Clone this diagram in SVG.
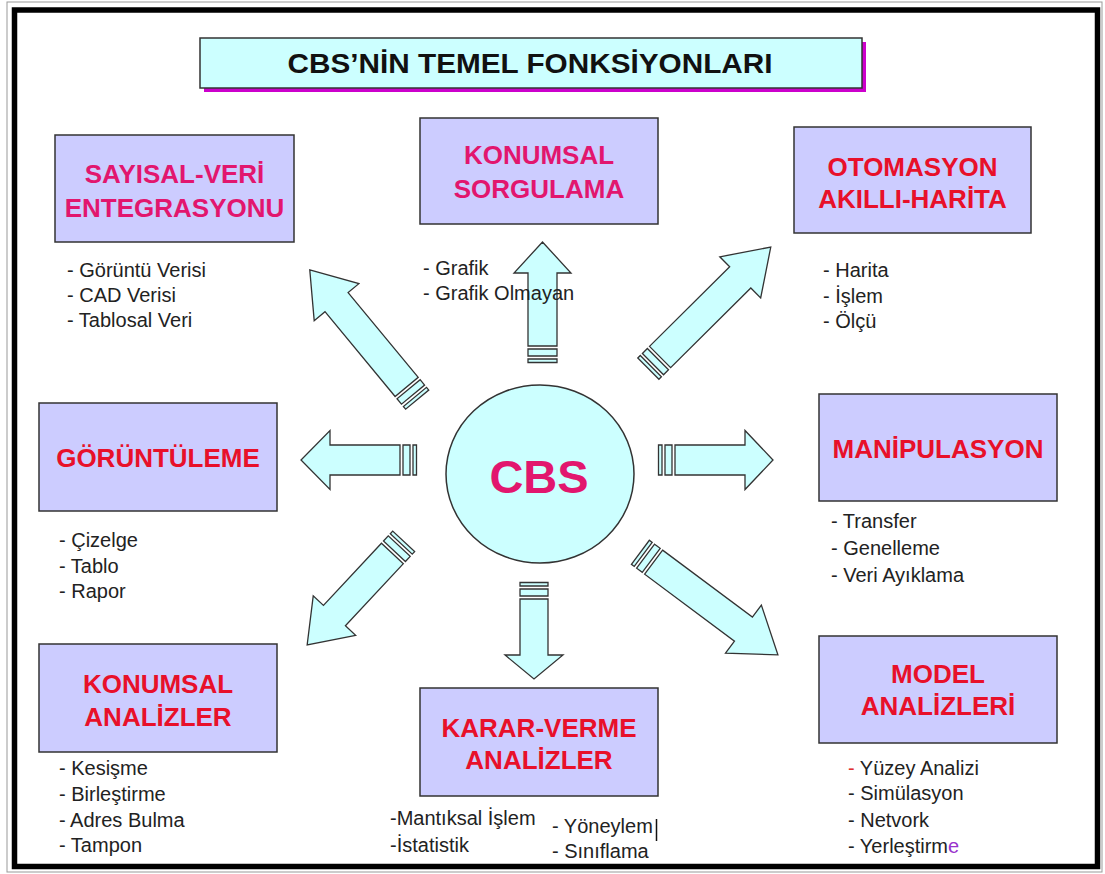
<svg xmlns="http://www.w3.org/2000/svg" width="1105" height="874" viewBox="0 0 1105 874">
<defs>
<style>
.box{fill:#CCCCFF;stroke:#333;stroke-width:1.5}
.arr{fill:#CCFFFF;stroke:#333;stroke-width:1.3;stroke-linejoin:miter}
.lbl{font-family:"Liberation Sans",Arial,sans-serif;font-weight:bold;font-size:26px;text-anchor:middle}
.pink{fill:#E2166E}
.red{fill:#E8102A}
.li{font-family:"Liberation Sans",Arial,sans-serif;font-size:20px;fill:#222}
</style>
</defs>
<rect x="0" y="0" width="1105" height="874" fill="#fff"/>
<rect x="7" y="2" width="1095" height="870" fill="none" stroke="#999" stroke-width="1"/>
<rect x="14.5" y="10" width="1083" height="856.5" fill="none" stroke="#000" stroke-width="5.5"/>

<g id="title">
<rect x="204" y="42" width="662" height="50" fill="#CC00CC"/>
<rect x="200" y="38" width="662" height="50" fill="#CCFFFF" stroke="#333" stroke-width="1.5"/>
<text x="530" y="73" font-family="Liberation Sans,Arial,sans-serif" font-weight="bold" font-size="28" text-anchor="middle" fill="#111" textLength="485" lengthAdjust="spacingAndGlyphs">CBS’NİN TEMEL FONKSİYONLARI</text>
</g>

<g id="connectors">
<g transform="translate(542.5,363) rotate(-90)">
<path class="arr" d="M0.5,-14.5 h3.5 v29 h-3.5 Z M7,-14.5 h7 v29 h-7 Z M17,-14.5 H90 V-28.5 L121,0 L90,28.5 V14.5 H17 Z"/>
</g>
<g transform="translate(417,460) rotate(180)">
<path class="arr" d="M0.5,-15 h3.5 v30 h-3.5 Z M7,-15 h7 v30 h-7 Z M17,-15 H87 V-29.5 L116,0 L87,29.5 V15 H17 Z"/>
</g>
<g transform="translate(658,460)">
<path class="arr" d="M0.5,-15 h3.5 v30 h-3.5 Z M7,-15 h7 v30 h-7 Z M17,-15 H87 V-29.5 L115,0 L87,29.5 V15 H17 Z"/>
</g>
<g transform="translate(534,582) rotate(90)">
<path class="arr" d="M0.5,-14 h3.5 v28 h-3.5 Z M7,-14 h7 v28 h-7 Z M17,-14 H73 V-29 L97,0 L73,29 V14 H17 Z"/>
</g>
<g transform="translate(417.5,400) rotate(-129.6)">
<path class="arr" d="M0.5,-15 h3.5 v30 h-3.5 Z M7,-15 h7 v30 h-7 Z M17,-15 H127 V-29 L169,0 L127,29 V15 H17 Z"/>
</g>
<g transform="translate(648,369) rotate(-44.8)">
<path class="arr" d="M0.5,-15 h3.5 v30 h-3.5 Z M7,-15 h7 v30 h-7 Z M17,-15 H130 V-29 L173,0 L130,29 V15 H17 Z"/>
</g>
<g transform="translate(404,541) rotate(133)">
<path class="arr" d="M0.5,-15 h3.5 v30 h-3.5 Z M7,-15 h7 v30 h-7 Z M17,-15 H102 V-29 L142,0 L102,29 V15 H17 Z"/>
</g>
<g transform="translate(640,552) rotate(36.7)">
<path class="arr" d="M0.5,-15 h3.5 v30 h-3.5 Z M7,-15 h7 v30 h-7 Z M17,-15 H129 V-30 L172,0 L129,30 V15 H17 Z"/>
</g>
</g>

<g id="cbs">
<ellipse cx="540" cy="474" rx="94" ry="89" fill="#CCFFFF" stroke="#333" stroke-width="1.5"/>
<text x="539" y="493" font-family="Liberation Sans,Arial,sans-serif" font-weight="bold" font-size="47" text-anchor="middle" fill="#E2166E">CBS</text>
</g>

<g id="sayisal">
<rect class="box" x="55" y="135" width="239" height="107"/>
<text class="lbl pink" x="174.5" y="183">SAYISAL-VERİ</text>
<text class="lbl pink" x="174.5" y="217">ENTEGRASYONU</text>
<text class="li" x="67" y="277">- Görüntü Verisi</text>
<text class="li" x="67" y="302">- CAD Verisi</text>
<text class="li" x="67" y="327">- Tablosal Veri</text>
</g>

<g id="konumsal-sorgulama">
<rect class="box" x="420" y="118" width="238" height="106"/>
<text class="lbl pink" x="539" y="164">KONUMSAL</text>
<text class="lbl pink" x="539" y="198">SORGULAMA</text>
<text class="li" x="423" y="275">- Grafik</text>
<text class="li" x="423" y="300">- Grafik Olmayan</text>
</g>

<g id="otomasyon">
<rect class="box" x="794" y="127" width="237" height="106"/>
<text class="lbl red" x="912.5" y="176">OTOMASYON</text>
<text class="lbl red" x="912.5" y="208">AKILLI-HARİTA</text>
<text class="li" x="823" y="277">- Harita</text>
<text class="li" x="823" y="303">- İşlem</text>
<text class="li" x="823" y="328">- Ölçü</text>
</g>

<g id="goruntuleme">
<rect class="box" x="39" y="403" width="238" height="108"/>
<text class="lbl red" x="158" y="467">GÖRÜNTÜLEME</text>
<text class="li" x="59" y="547">- Çizelge</text>
<text class="li" x="59" y="573">- Tablo</text>
<text class="li" x="59" y="598">- Rapor</text>
</g>

<g id="manipulasyon">
<rect class="box" x="819" y="394" width="238" height="107"/>
<text class="lbl red" x="938" y="458">MANİPULASYON</text>
<text class="li" x="831" y="528">- Transfer</text>
<text class="li" x="831" y="555">- Genelleme</text>
<text class="li" x="831" y="582">- Veri Ayıklama</text>
</g>

<g id="konumsal-analizler">
<rect class="box" x="39" y="644" width="238" height="108"/>
<text class="lbl red" x="158" y="693">KONUMSAL</text>
<text class="lbl red" x="158" y="726">ANALİZLER</text>
<text class="li" x="59" y="775">- Kesişme</text>
<text class="li" x="59" y="801">- Birleştirme</text>
<text class="li" x="59" y="827">- Adres Bulma</text>
<text class="li" x="59" y="852">- Tampon</text>
</g>

<g id="karar-verme">
<rect class="box" x="420" y="688" width="238" height="108"/>
<text class="lbl red" x="539" y="737">KARAR-VERME</text>
<text class="lbl red" x="539" y="769">ANALİZLER</text>
<text class="li" x="390" y="825">-Mantıksal İşlem</text>
<text class="li" x="390" y="852">-İstatistik</text>
<text class="li" x="552" y="833">- Yöneylem</text>
<line x1="656.5" y1="819" x2="656.5" y2="841" stroke="#111" stroke-width="1.5"/>
<text class="li" x="552" y="858">- Sınıflama</text>
</g>

<g id="model">
<rect class="box" x="819" y="636" width="238" height="107"/>
<text class="lbl red" x="938" y="683">MODEL</text>
<text class="lbl red" x="938" y="715">ANALİZLERİ</text>
<text class="li" x="848" y="775"><tspan fill="#E03030">-</tspan> Yüzey Analizi</text>
<text class="li" x="848" y="800">- Simülasyon</text>
<text class="li" x="848" y="827">- Netvork</text>
<text class="li" x="848" y="853">- Yerleştirm<tspan fill="#9933CC">e</tspan></text>
</g>
</svg>
